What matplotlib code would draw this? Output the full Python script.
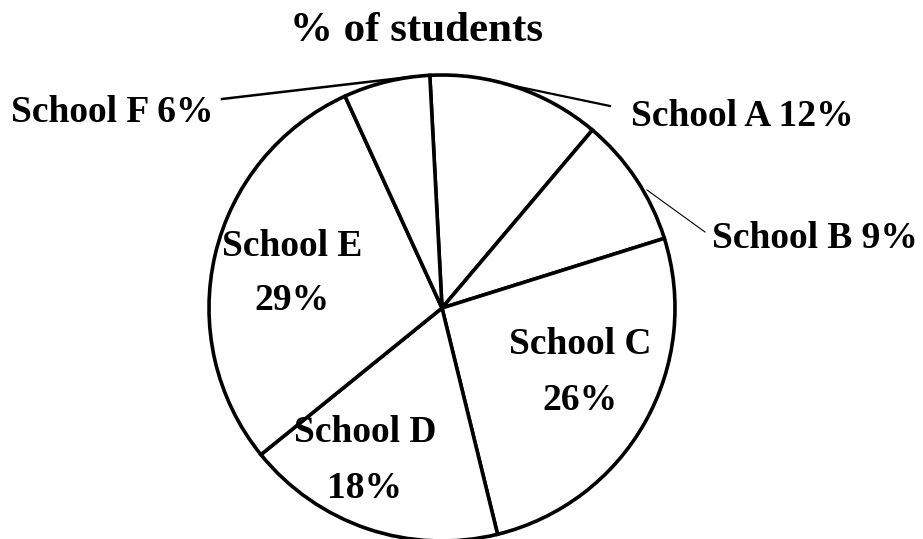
import matplotlib.pyplot as plt

schools = ["School A", "School B", "School C", "School D", "School E", "School F"]
shares = [12, 9, 26, 18, 29, 6]

W, H = 923, 539
plt.rcParams["font.family"] = ["Liberation Serif", "DejaVu Serif"]

fig = plt.figure(figsize=(W / 100, H / 100), dpi=100)
ax = fig.add_axes([0, 0, 1, 1])

cx, cy, r = 442, H - 308, 233
ax.pie(shares, startangle=93, counterclock=False, center=(cx, cy), radius=r,
       colors=["white"] * len(shares),
       wedgeprops=dict(edgecolor="black", linewidth=2.6))
ax.set_xlim(0, W)
ax.set_ylim(0, H)
ax.set_aspect("equal")
ax.axis("off")

font = dict(fontweight="bold", fontsize=27, ha="center", va="center")

ax.text(416, H - 31, "% of students", fontsize=31, fontweight="bold", ha="center", va="center")

# inner labels
ax.text(580, H - 345, "School C", **font)
ax.text(580, H - 401, "26%", **font)
ax.text(365, H - 433, "School D", **font)
ax.text(365, H - 488, "18%", **font)
ax.text(292, H - 247, "School E", **font)
ax.text(292, H - 301, "29%", **font)

# outer labels with leader lines
ax.text(112, H - 112, "School F 6%", **font)
ax.plot([222, 410], [H - 99, H - 77], color="black", lw=1.8)
ax.text(742, H - 117, "School A 12%", **font)
ax.plot([505, 610], [H - 84, H - 106], color="black", lw=1.6)
ax.text(815, H - 238, "School B 9%", **font)
ax.plot([647, 705], [H - 190, H - 232], color="black", lw=0.8)

fig.savefig("out.png", dpi=100)
